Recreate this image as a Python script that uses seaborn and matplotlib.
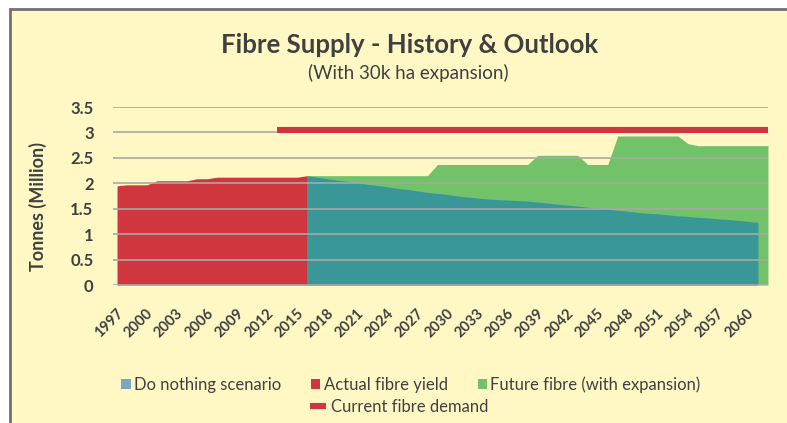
import numpy as np
import pandas as pd
import seaborn as sns
import matplotlib.pyplot as plt
from matplotlib.patches import Rectangle, Patch
from matplotlib.lines import Line2D
from matplotlib.transforms import ScaledTranslation

# actual fibre yield (history)
actual_years = list(range(1997, 2017))
actual_yield = [1.95, 1.97, 1.97, 1.97, 2.05, 2.05, 2.05, 2.05, 2.09, 2.09,
                2.12, 2.12, 2.12, 2.12, 2.12, 2.12, 2.12, 2.12, 2.12, 2.15]

# do nothing scenario
future_years = list(range(2016, 2062))
do_nothing = [2.15, 2.12, 2.09, 2.06, 2.04, 2.01, 1.98, 1.96, 1.93, 1.90,
              1.88, 1.85, 1.82, 1.80, 1.78, 1.75, 1.73, 1.71, 1.69, 1.68,
              1.67, 1.66, 1.65, 1.63, 1.61, 1.59, 1.57, 1.55, 1.53, 1.51,
              1.49, 1.47, 1.45, 1.43, 1.41, 1.40, 1.38, 1.36, 1.35, 1.33,
              1.32, 1.30, 1.29, 1.27, 1.25, 1.23]

# future fibre with expansion (total)
expansion_years = list(range(2016, 2063))
expansion = [2.15, 2.15, 2.15, 2.15, 2.15, 2.15, 2.15, 2.15, 2.15, 2.15,
             2.15, 2.15, 2.15, 2.37, 2.37, 2.37, 2.37, 2.37, 2.37, 2.37,
             2.37, 2.37, 2.37, 2.55, 2.55, 2.55, 2.55, 2.55, 2.37, 2.37,
             2.37, 2.93, 2.93, 2.93, 2.93, 2.93, 2.93, 2.93, 2.78, 2.74,
             2.74, 2.74, 2.74, 2.74, 2.74, 2.74, 2.74]

# current fibre demand
demand_years = [2013, 2062]
demand = [3.05, 3.05]

tick_years = list(range(1997, 2061, 3))

bg = '#FFF8C4'
red = '#D0363E'
teal = '#3A9797'
green = '#72C26A'
txt = '#404040'

sns.set_style('white')
plt.rcParams['font.family'] = ['Lato', 'DejaVu Sans']

fig = plt.figure(figsize=(7.87, 4.23), dpi=100, facecolor='white')
fig.patches.append(Rectangle((9.5 / 787, -0.1), 1.2, 1 - 9.5 / 423 + 0.1,
                             transform=fig.transFigure, facecolor=bg,
                             edgecolor='#707070', lw=2, zorder=-5))

ax = fig.add_axes([113 / 787, 1 - 285 / 423, (768 - 113) / 787, (285 - 107) / 423])
ax.set_facecolor('none')

ax.fill_between(expansion_years, 0, expansion, color=green, lw=0, zorder=1)
ax.fill_between(future_years, 0, do_nothing, color=teal, lw=0, zorder=1.2)
ax.fill_between(actual_years, 0, actual_yield, color=red, lw=0, zorder=1.3)
dem = pd.DataFrame({'year': demand_years, 'demand': demand})
sns.lineplot(data=dem, x='year', y='demand', color=red, lw=4.4, ax=ax,
             zorder=3, solid_capstyle='butt')

ax.set_xlim(1996.6, 2062)
ax.set_ylim(0, 3.5)
ax.set_yticks(np.arange(0, 3.6, 0.5))
ax.set_yticklabels([f'{v:g}' for v in np.arange(0, 3.6, 0.5)])
ax.set_xticks(tick_years)
ax.set_xticklabels([str(y) for y in tick_years])
ax.set_axisbelow(False)
ax.grid(axis='y', color='#A8A8A8', lw=1.2, zorder=2.5)
ax.grid(axis='x', visible=False)
sns.despine(ax=ax, left=True, bottom=True)
ax.tick_params(axis='y', length=0, pad=14, labelsize=12, labelcolor=txt)
ax.tick_params(axis='x', length=0, pad=19, labelsize=10.5, labelcolor=txt)
for lab in ax.get_yticklabels():
    lab.set_fontweight('bold')
for lab in ax.get_xticklabels():
    lab.set_rotation(45)
    lab.set_ha('right')
    lab.set_va('center')
    lab.set_rotation_mode('anchor')
    lab.set_fontweight('bold')
    lab.set_transform(lab.get_transform() + ScaledTranslation(4 / 100, 0, fig.dpi_scale_trans))
ax.set_xlabel('')
ax.set_ylabel('Tonnes (Million)', fontsize=13, fontweight='bold', color=txt)
ax.yaxis.set_label_coords(-(113 - 47) / 655, 0.44)

fig.text(410 / 787, 1 - 45 / 423, 'Fibre Supply - History & Outlook', ha='center',
         va='center', fontsize=18.5, fontweight='bold', color=txt)
fig.text(408 / 787, 1 - 73 / 423, '(With 30k ha expansion)', ha='center',
         va='center', fontsize=13.5, color=txt)

h1 = [Patch(facecolor='#7BA7C2', edgecolor='none', label='Do nothing scenario'),
      Patch(facecolor=red, edgecolor='none', label='Actual fibre yield'),
      Patch(facecolor=green, edgecolor='none', label='Future fibre (with expansion)')]
fig.legend(handles=h1, loc='center left', bbox_to_anchor=(113 / 787, 1 - 385 / 423),
           ncol=3, frameon=False, fontsize=12, handlelength=0.55, handleheight=0.55,
           handletextpad=0.2, columnspacing=1.8, borderpad=0, labelcolor=txt)
h2 = [Line2D([0], [0], color=red, lw=4.4, solid_capstyle='butt', label='Current fibre demand')]
fig.legend(handles=h2, loc='center left', bbox_to_anchor=(302 / 787, 1 - 407 / 423),
           frameon=False, fontsize=12, handlelength=0.95, handletextpad=0.3,
           borderpad=0, labelcolor=txt)

fig.savefig('out.png', dpi=100, facecolor='white')
